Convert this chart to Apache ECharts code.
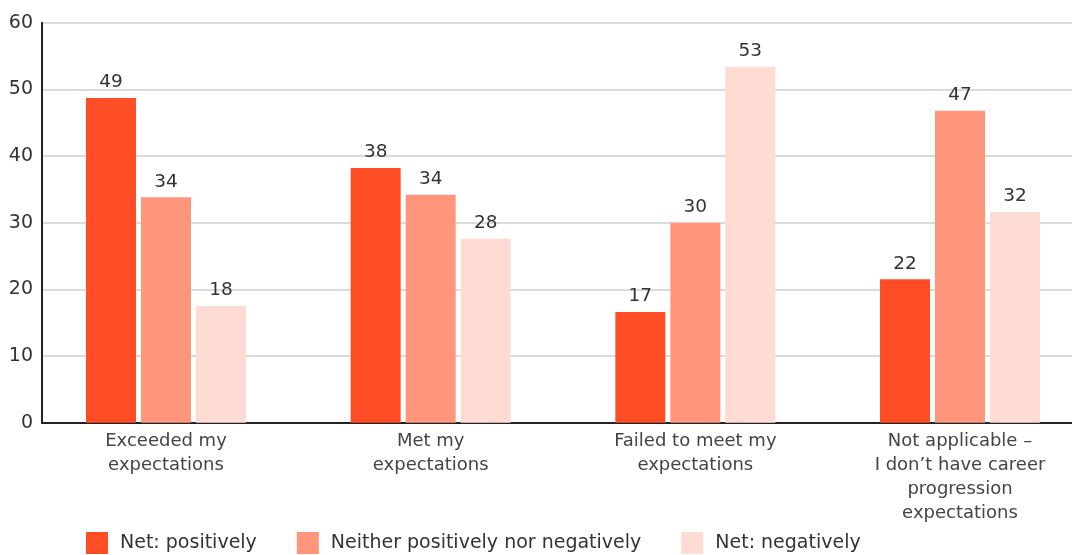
<!DOCTYPE html>
<html><head><meta charset="utf-8">
<script src="https://cdn.jsdelivr.net/npm/echarts@6/dist/echarts.min.js"></script>
<style>html,body{margin:0;padding:0;background:#fff}#c{width:1072px;height:555px}</style>
</head><body><div id="c"></div>
<script>
const categories = ['Exceeded my\nexpectations', 'Met my\nexpectations', 'Failed to meet my\nexpectations', 'Not applicable –\nI don’t have career\nprogression\nexpectations'];
const seriesNames = ['Net: positively', 'Neither positively nor negatively', 'Net: negatively'];
const positively = [48.7, 38.2, 16.6, 21.5];
const neither = [33.8, 34.2, 30.0, 46.8];
const negatively = [17.5, 27.6, 53.4, 31.6];
const yTicks = [0, 10, 20, 30, 40, 50, 60];

const colors = ['#FF4D26', '#FF967C', '#FFDCD3'];
const FONT = 'DejaVu Sans';
const chart = echarts.init(document.getElementById('c'), null, {renderer: 'canvas'});
const mk = (name, data, i) => ({
  name, type: 'bar', data, xAxisIndex: 1, yAxisIndex: 1,
  barWidth: 50, barGap: '10%', clip: false,
  itemStyle: {color: colors[i]},
  label: {show: true, position: 'top', distance: 6, color: '#333', fontSize: 18.5, fontFamily: FONT,
    formatter: p => Math.round(p.value)}
});
chart.setOption({
  animation: false,
  textStyle: {fontFamily: FONT},
  grid: [
    {left: 42, right: 0, top: 22.7, bottom: 132.3},
    {left: 166, right: 112, top: 22.7, bottom: 132.3}
  ],
  xAxis: [
    {type: 'value', gridIndex: 0, min: 0, max: 1, axisLine: {show: true, lineStyle: {color: '#222', width: 2}},
     axisTick: {show: false}, axisLabel: {show: false}, splitLine: {show: false}},
    {type: 'category', gridIndex: 1, data: categories, boundaryGap: false,
     axisLine: {show: false}, axisTick: {show: false}, splitLine: {show: false},
     axisLabel: {color: '#444', fontSize: 18, lineHeight: 24, margin: 7, fontFamily: FONT, interval: 0}}
  ],
  yAxis: [
    {type: 'value', gridIndex: 0, min: yTicks[0], max: yTicks[yTicks.length - 1], interval: 10,
     axisLine: {show: true, lineStyle: {color: '#222', width: 2}}, axisTick: {show: false},
     axisLabel: {color: '#333', fontSize: 19, margin: 9, fontFamily: FONT},
     splitLine: {show: true, lineStyle: {color: '#cfcfcf', width: 1.5}}},
    {type: 'value', gridIndex: 1, min: 0, max: 60, show: false}
  ],
  legend: {
    left: 81, top: 527, itemWidth: 22, itemHeight: 22, itemGap: 40,
    icon: 'rect', textStyle: {color: '#333', fontSize: 19, fontFamily: FONT, padding: [0, 0, 0, 7]},
    data: seriesNames
  },
  series: [mk(seriesNames[0], positively, 0), mk(seriesNames[1], neither, 1), mk(seriesNames[2], negatively, 2)]
});
</script></body></html>
